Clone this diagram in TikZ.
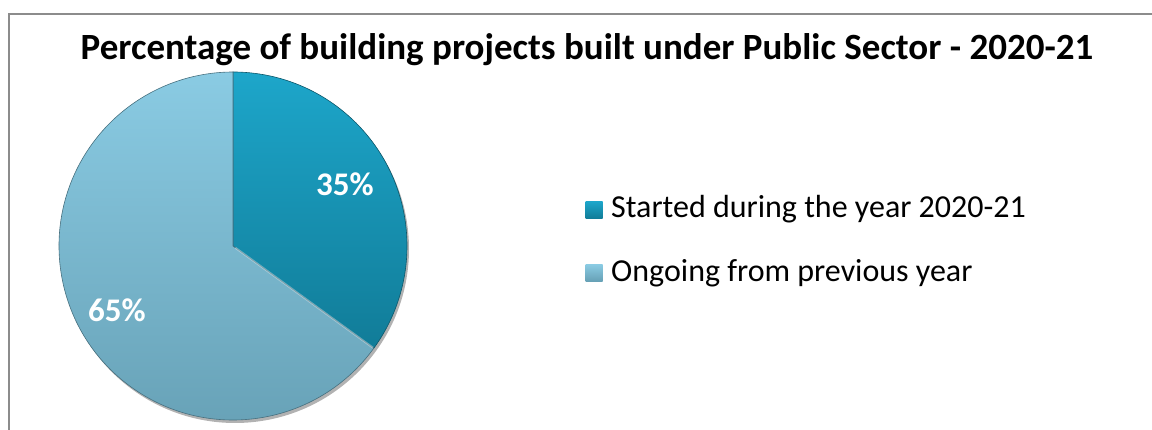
\documentclass[tikz,border=0pt]{standalone}
\usepackage{fontspec}
\setmainfont{Carlito}
\usetikzlibrary{positioning}
\definecolor{starttop}{HTML}{1DA6CA}
\definecolor{startbot}{HTML}{117C98}
\definecolor{ongotop}{HTML}{8ACBE3}
\definecolor{ongobot}{HTML}{66A0B5}
\definecolor{frame}{HTML}{8C8C8C}

\begin{document}
\begin{tikzpicture}[x=1pt,y=1pt,
	pct/.style={text=white, font=\fontsize{33}{40}\selectfont\bfseries},
	keybox/.style={minimum size=17pt, inner sep=0pt},
	keytext/.style={font=\fontsize{32}{38}\selectfont, inner sep=0pt, anchor=base west}]
	%\draw[help lines] (0,0) grid[step=50] (1152,430);
	\useasboundingbox (0,0) rectangle (1152,430);
	\draw[frame, line width=1.5pt] (9,0)--(9,416)--(1152,416);
	\node[anchor=base, inner sep=0pt] (title) at (587,370) {\fontsize{37}{44}\selectfont\bfseries Percentage of building projects built under Public Sector - 2020-21};
	\coordinate (c) at (233,184);
	% pie
	\fill[black!30] (235,181) circle (174);
	\shade[top color=starttop, bottom color=startbot, draw=startbot!70!black, line width=0.6pt]
		(c) -- ++(90:174) arc[start angle=90, end angle=-36, radius=174] -- cycle;
	\shade[top color=ongotop, bottom color=ongobot, draw=ongobot!70!black, line width=0.6pt]
		(c) -- ++(-36:174) arc[start angle=-36, end angle=-270, radius=174] -- cycle;
	\draw[white, opacity=0.35, line width=2pt] (c) ++(-36:3) -- ++(-36:170);
	\node[pct] (p35) at (345,246) {35\%};
	\node[pct] (p65) at (117,120) {65\%};
	% legend
	\node[keybox, top color=starttop, bottom color=startbot] (k1) at (594,220) {};
	\node[keybox, top color=ongotop, bottom color=ongobot] (k2) at (594,157) {};
	\node[keytext] (t1) at (611,212) {Started during the year 2020-21};
	\node[keytext] (t2) at (611,148) {Ongoing from previous year};
\end{tikzpicture}
\end{document}
